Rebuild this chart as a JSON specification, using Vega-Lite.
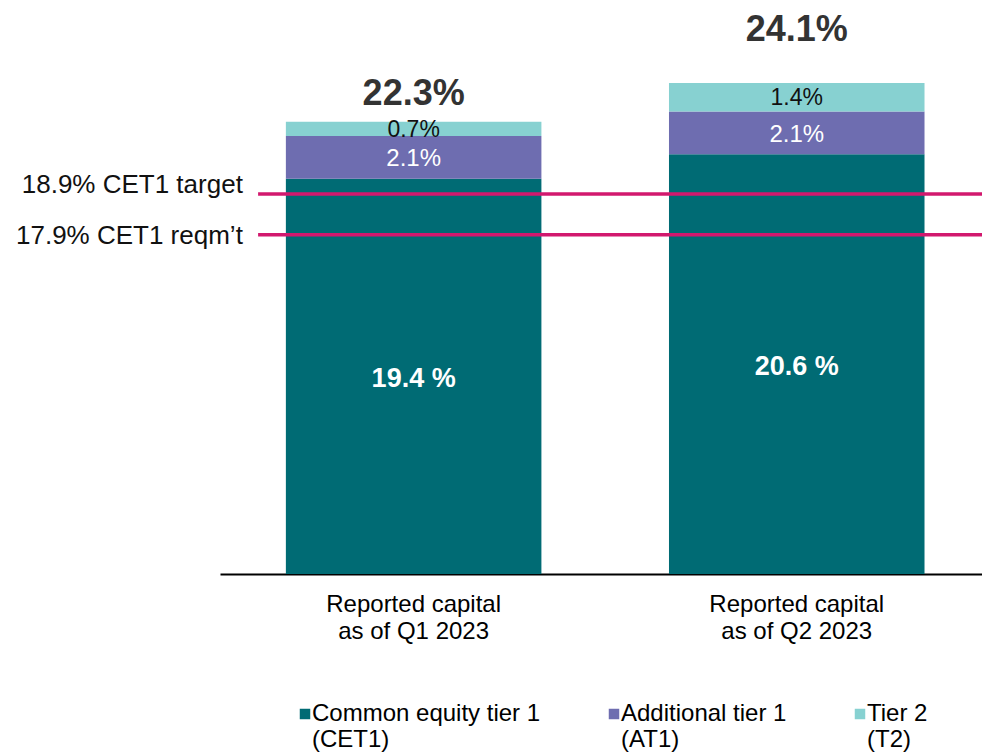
{
  "$schema": "https://vega.github.io/schema/vega-lite/v6.json",
  "autosize": {"type": "none"},
  "width": 762,
  "height": 550,
  "padding": {"left": 220, "top": 24, "right": 0, "bottom": 180},
  "datasets": {
    "segments": [
      {"period": "Reported capital|as of Q1 2023", "segment": "Common equity tier 1|(CET1)", "layer": 1, "value": 19.4, "label": "19.4 %"},
      {"period": "Reported capital|as of Q1 2023", "segment": "Additional tier 1|(AT1)", "layer": 2, "value": 2.1, "label": "2.1%"},
      {"period": "Reported capital|as of Q1 2023", "segment": "Tier 2|(T2)", "layer": 3, "value": 0.7, "label": "0.7%"},
      {"period": "Reported capital|as of Q2 2023", "segment": "Common equity tier 1|(CET1)", "layer": 1, "value": 20.6, "label": "20.6 %"},
      {"period": "Reported capital|as of Q2 2023", "segment": "Additional tier 1|(AT1)", "layer": 2, "value": 2.1, "label": "2.1%"},
      {"period": "Reported capital|as of Q2 2023", "segment": "Tier 2|(T2)", "layer": 3, "value": 1.4, "label": "1.4%"}
    ],
    "totals": [
      {"period": "Reported capital|as of Q1 2023", "total": 22.3, "label": "22.3%"},
      {"period": "Reported capital|as of Q2 2023", "total": 24.1, "label": "24.1%"}
    ],
    "levels": [
      {"name": "target", "level": 18.65, "label": "18.9% CET1 target"},
      {"name": "reqmt", "level": 16.65, "label": "17.9% CET1 reqm’t"}
    ]
  },
  "layer": [
    {
      "data": {"name": "segments"},
      "transform": [
        {"stack": "value", "groupby": ["period"], "sort": [{"field": "layer", "order": "ascending"}], "as": ["v0", "v1"]},
        {"calculate": "(datum.v0 + datum.v1) / 2", "as": "mid"}
      ],
      "layer": [
        {
          "mark": {"type": "bar"},
          "encoding": {
            "x": {
              "field": "period", "type": "nominal", "sort": null, "title": null,
              "scale": {"paddingInner": 0.333, "paddingOuter": 0.161, "align": 0.534},
              "axis": {
                "labelExpr": "split(datum.label, '|')",
                "labelAngle": 0,
                "labelFontSize": 24,
                "labelColor": "#000000",
                "labelLineHeight": 27,
                "labelPadding": 18,
                "labelBaseline": "top",
                "labelLimit": 400,
                "ticks": false,
                "domainColor": "#000000",
                "domainWidth": 2,
                "grid": false
              }
            },
            "y": {"field": "v0", "type": "quantitative", "scale": {"domain": [0, 27], "nice": false}, "axis": null},
            "y2": {"field": "v1"},
            "color": {
              "field": "segment", "type": "nominal",
              "scale": {
                "domain": ["Common equity tier 1|(CET1)", "Additional tier 1|(AT1)", "Tier 2|(T2)"],
                "range": ["#006B74", "#6E6DB0", "#87D1D1"]
              },
              "legend": {
                "title": null,
                "orient": "none",
                "legendX": 73,
                "legendY": 678,
                "direction": "horizontal",
                "columns": 3,
                "columnPadding": 61,
                "symbolType": "square",
                "symbolSize": 110,
                "symbolStrokeWidth": 0,
                "labelFontSize": 24,
                "labelColor": "#000000",
                "labelLimit": 400,
                "labelOffset": -5,
                "labelExpr": "split(datum.label, '|')",
                "labelBaseline": "middle",
                "padding": 0
              }
            }
          }
        },
        {
          "transform": [{"filter": "datum.layer == 1"}],
          "mark": {"type": "text", "fontSize": 27, "fontWeight": "bold", "color": "#FFFFFF", "baseline": "middle", "dy": 3},
          "encoding": {
            "x": {"field": "period", "type": "nominal", "sort": null},
            "y": {"field": "mid", "type": "quantitative"},
            "text": {"field": "label"}
          }
        },
        {
          "transform": [{"filter": "datum.layer == 2"}],
          "mark": {"type": "text", "fontSize": 24, "color": "#FFFFFF", "baseline": "middle", "dy": 2},
          "encoding": {
            "x": {"field": "period", "type": "nominal", "sort": null},
            "y": {"field": "mid", "type": "quantitative"},
            "text": {"field": "label"}
          }
        },
        {
          "transform": [{"filter": "datum.layer == 3"}],
          "mark": {"type": "text", "fontSize": 23, "color": "#111111", "baseline": "middle", "dy": 1},
          "encoding": {
            "x": {"field": "period", "type": "nominal", "sort": null},
            "y": {"field": "mid", "type": "quantitative"},
            "text": {"field": "label"}
          }
        },
        {
          "data": {"name": "totals"},
          "transform": [{"filter": "datum.total < 23"}],
          "mark": {"type": "text", "fontSize": 36, "fontWeight": "bold", "color": "#333333", "baseline": "middle", "dy": -26},
          "encoding": {
            "x": {"field": "period", "type": "nominal", "sort": null},
            "y": {"field": "total", "type": "quantitative"},
            "text": {"field": "label"}
          }
        },
        {
          "data": {"name": "totals"},
          "transform": [{"filter": "datum.total > 23"}],
          "mark": {"type": "text", "fontSize": 36, "fontWeight": "bold", "color": "#333333", "baseline": "middle", "dy": -53},
          "encoding": {
            "x": {"field": "period", "type": "nominal", "sort": null},
            "y": {"field": "total", "type": "quantitative"},
            "text": {"field": "label"}
          }
        }
      ]
    },
    {
      "data": {"name": "levels"},
      "layer": [
        {
          "mark": {"type": "rule", "color": "#D2186E", "strokeWidth": 3.5},
          "encoding": {
            "x": {"datum": 5, "type": "quantitative", "scale": {"domain": [0, 100], "nice": false}, "axis": null},
            "x2": {"datum": 100},
            "y": {"field": "level", "type": "quantitative"}
          }
        },
        {
          "transform": [{"filter": "datum.name == 'target'"}],
          "mark": {"type": "text", "fontSize": 26, "color": "#111111", "align": "right", "baseline": "alphabetic", "dy": -1},
          "encoding": {
            "x": {"datum": 3, "type": "quantitative"},
            "y": {"field": "level", "type": "quantitative"},
            "text": {"field": "label"}
          }
        },
        {
          "transform": [{"filter": "datum.name == 'reqmt'"}],
          "mark": {"type": "text", "fontSize": 26, "color": "#111111", "align": "right", "baseline": "alphabetic", "dy": 9},
          "encoding": {
            "x": {"datum": 3, "type": "quantitative"},
            "y": {"field": "level", "type": "quantitative"},
            "text": {"field": "label"}
          }
        }
      ]
    }
  ],
  "resolve": {"scale": {"x": "independent"}},
  "config": {
    "font": "Liberation Sans",
    "view": {"stroke": null},
    "text": {"font": "Liberation Sans"},
    "axis": {"labelFont": "Liberation Sans"},
    "legend": {"labelFont": "Liberation Sans"}
  }
}
